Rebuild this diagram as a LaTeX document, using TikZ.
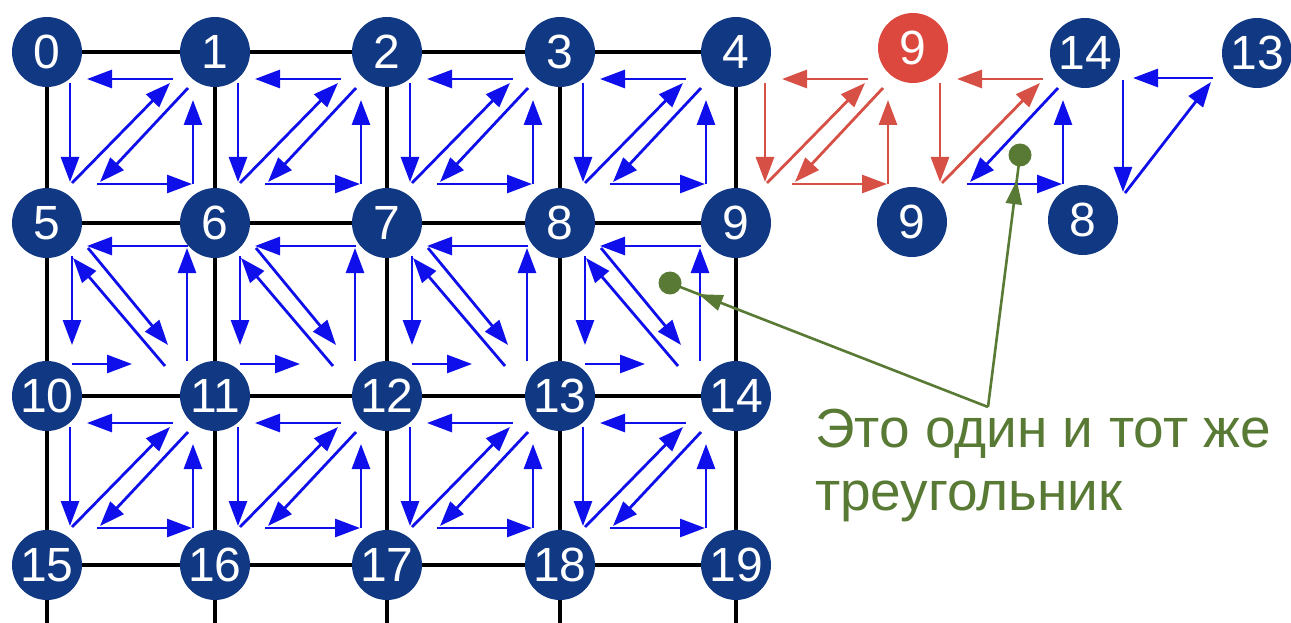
\documentclass[tikz,border=0pt]{standalone}
\usepackage{fontspec}
\setmainfont{Liberation Sans}
\usetikzlibrary{arrows.meta,decorations.markings}
\definecolor{nodeblue}{RGB}{17,56,130}
\definecolor{nodered}{RGB}{221,72,62}
\definecolor{arrowblue}{RGB}{15,15,235}
\definecolor{arrowred}{RGB}{214,80,70}
\definecolor{noteg}{RGB}{88,122,52}
\tikzset{
  vnode/.style={circle, fill=nodeblue, text=white, minimum size=70pt, inner sep=0pt,
                font=\fontsize{48}{48}\selectfont},
  rnode/.style={vnode, fill=nodered},
  gridline/.style={line width=3.5pt, black},
  arr/.style={line width=2.8pt, draw=#1, -{Triangle[length=25pt,width=18pt]}},
  arr/.default=arrowblue,
  gdot/.style={circle, fill=noteg, minimum size=23pt, inner sep=0pt},
  gline/.style={line width=2.6pt, draw=noteg},
  gmark/.style={postaction={decorate}, decoration={markings,
     mark=at position #1 with {\arrow[noteg]{Triangle[length=24pt,width=16pt]}}}},
  notetext/.style={text=noteg, inner sep=0pt, font=\fontsize{55}{55}\selectfont}
}
% upper-left triangle of a "Z" cell
\newcommand\ZTopTri[3]{%
  \draw[arr=#1] ({#2+126},{#3+27}) -- ({#2+40},{#3+27});
  \draw[arr=#1] ({#2+23},{#3+31}) -- ({#2+23},{#3+130});
  \draw[arr=#1] ({#2+25},{#3+131}) -- ({#2+123},{#3+31});
}
% lower-right triangle of a "Z" cell
\newcommand\ZBotTri[3]{%
  \draw[arr=#1] ({#2+141},{#3+36}) -- ({#2+53},{#3+130});
  \draw[arr=#1] ({#2+50},{#3+132}) -- ({#2+145},{#3+132});
  \draw[arr=#1] ({#2+146},{#3+132}) -- ({#2+146},{#3+48});
}
% "N" cell (middle row)
\newcommand\NCellArrows[2]{%
  \draw[arr] ({#1+140},{#2+138}) -- ({#1+140},{#2+25});
  \draw[arr] ({#1+141},{#2+23}) -- ({#1+40},{#2+23});
  \draw[arr] ({#1+41},{#2+25}) -- ({#1+121},{#2+122});
  \draw[arr] ({#1+25},{#2+33}) -- ({#1+25},{#2+122});
  \draw[arr] ({#1+25},{#2+141}) -- ({#1+85},{#2+141});
  \draw[arr] ({#1+118},{#2+143}) -- ({#1+26},{#2+35});
}
\begin{document}
\begin{tikzpicture}[x=1pt,y=-1pt]
\useasboundingbox (0,0) rectangle (1291,623);
% grid nodes
\foreach \r/\yy in {0/52,1/223,2/396,3/565}{
  \foreach \c/\xx in {0/47,1/215,2/387,3/560,4/736}{
    \pgfmathtruncatemacro\idx{5*\r+\c}
    \node[vnode] (g\idx) at (\xx,\yy) {\idx};
  }
}
% bottom free ends
\foreach \c/\xx in {0/47,1/215,2/387,3/560,4/736}{
  \coordinate (bot\c) at (\xx,623);
}
% grid lines
\foreach \r in {0,1,2,3}{
  \foreach \c in {0,1,2,3}{
    \pgfmathtruncatemacro\a{5*\r+\c}
    \pgfmathtruncatemacro\b{5*\r+\c+1}
    \draw[gridline] (g\a) -- (g\b);
  }
}
\foreach \r in {0,1,2}{
  \foreach \c in {0,1,2,3,4}{
    \pgfmathtruncatemacro\a{5*\r+\c}
    \pgfmathtruncatemacro\b{5*\r+\c+5}
    \draw[gridline] (g\a) -- (g\b);
  }
}
\foreach \c in {0,1,2,3,4}{
  \pgfmathtruncatemacro\a{15+\c}
  \draw[gridline] (g\a) -- (bot\c);
}
% cell arrows
\foreach \xx in {47,215,387,560}{
  \ZTopTri{arrowblue}{\xx}{52}
  \ZBotTri{arrowblue}{\xx}{52}
  \NCellArrows{\xx}{223}
  \ZTopTri{arrowblue}{\xx}{396}
  \ZBotTri{arrowblue}{\xx}{396}
}
% red / extra triangles
\ZTopTri{arrowred}{742}{52}
\ZBotTri{arrowred}{742}{52}
\ZTopTri{arrowred}{917}{52}
\ZBotTri{arrowblue}{917}{52}
\draw[arr] (1213,78) -- (1133,78);
\draw[arr] (1123,80) -- (1123,192);
\draw[arr] (1125,193) -- (1211,82);
% right-hand nodes
\node[rnode] (r9) at (913,48) {9};
\node[vnode] (b9) at (912,222) {9};
\node[vnode] (b14) at (1085,53) {14};
\node[vnode] (b8) at (1083,220) {8};
\node[vnode] (b13) at (1257,53) {13};
% annotation
\node[gdot] (dA) at (670,283) {};
\node[gdot] (dB) at (1020,155) {};
\coordinate (junc) at (988,407);
\draw[gline, gmark=0.91] (junc) -- (dA.center);
\draw[gline, gmark=0.90] (junc) -- (dB.center);
\node[notetext, anchor=base west] (t1) at (815,447) {Это один и тот же};
\node[notetext, anchor=base west] (t2) at (815,510) {треугольник};
\end{tikzpicture}
\end{document}
